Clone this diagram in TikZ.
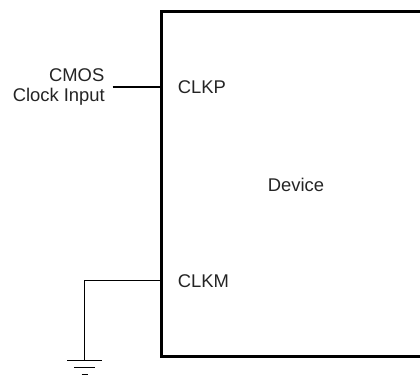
\documentclass[tikz,border=0pt]{standalone}
\usepackage{fontspec}
\setmainfont{Liberation Sans}
\definecolor{txt}{gray}{0.14}
\tikzset{
  lbl/.style={text=txt,font=\fontsize{18.4bp}{22bp}\selectfont,inner sep=0pt},
  wire/.style={draw=black,line width=1.2bp},
  dev/.style={draw=black,line width=3bp,outer sep=0pt,minimum width=270bp,minimum height=345bp,inner sep=0pt}
}
\begin{document}
\begin{tikzpicture}[x=1bp,y=-1bp]
\path[use as bounding box] (0,0) rectangle (420,375);
\begin{scope}
\clip (0,0) rectangle (420,375);
\node[dev,anchor=north west] (device) at (161,11) {};
\end{scope}
\node[lbl] (devlabel) at (296,185) {Device};
\node[lbl,anchor=west] (clkp) at (177.7,87) {CLKP};
\node[lbl,anchor=west] (clkm) at (177.7,281) {CLKM};
\node[lbl,anchor=east] (cmos) at (104.5,75) {CMOS};
\node[lbl,anchor=east] (clockin) at (105,96.5) {Clock Input};
\coordinate (pinp) at (160,87);
\coordinate (inp) at (112.7,87);
\coordinate (pinm) at (160,280.5);
\coordinate (corner) at (84.5,280.5);
\coordinate (g1) at (84.5,360);
\coordinate (g1l) at (67,360.2);
\coordinate (g1r) at (102,360.2);
\coordinate (g2l) at (74,367.8);
\coordinate (g2r) at (95,367.8);
\coordinate (g3l) at (81.5,374.5);
\coordinate (g3r) at (88,374.5);
\draw[wire] (inp) -- (pinp);
\draw[wire] (pinm) -- (corner) -- (g1);
\draw[wire] (g1l) -- (g1r);
\draw[wire] (g2l) -- (g2r);
\draw[wire] (g3l) -- (g3r);
\end{tikzpicture}
\end{document}
